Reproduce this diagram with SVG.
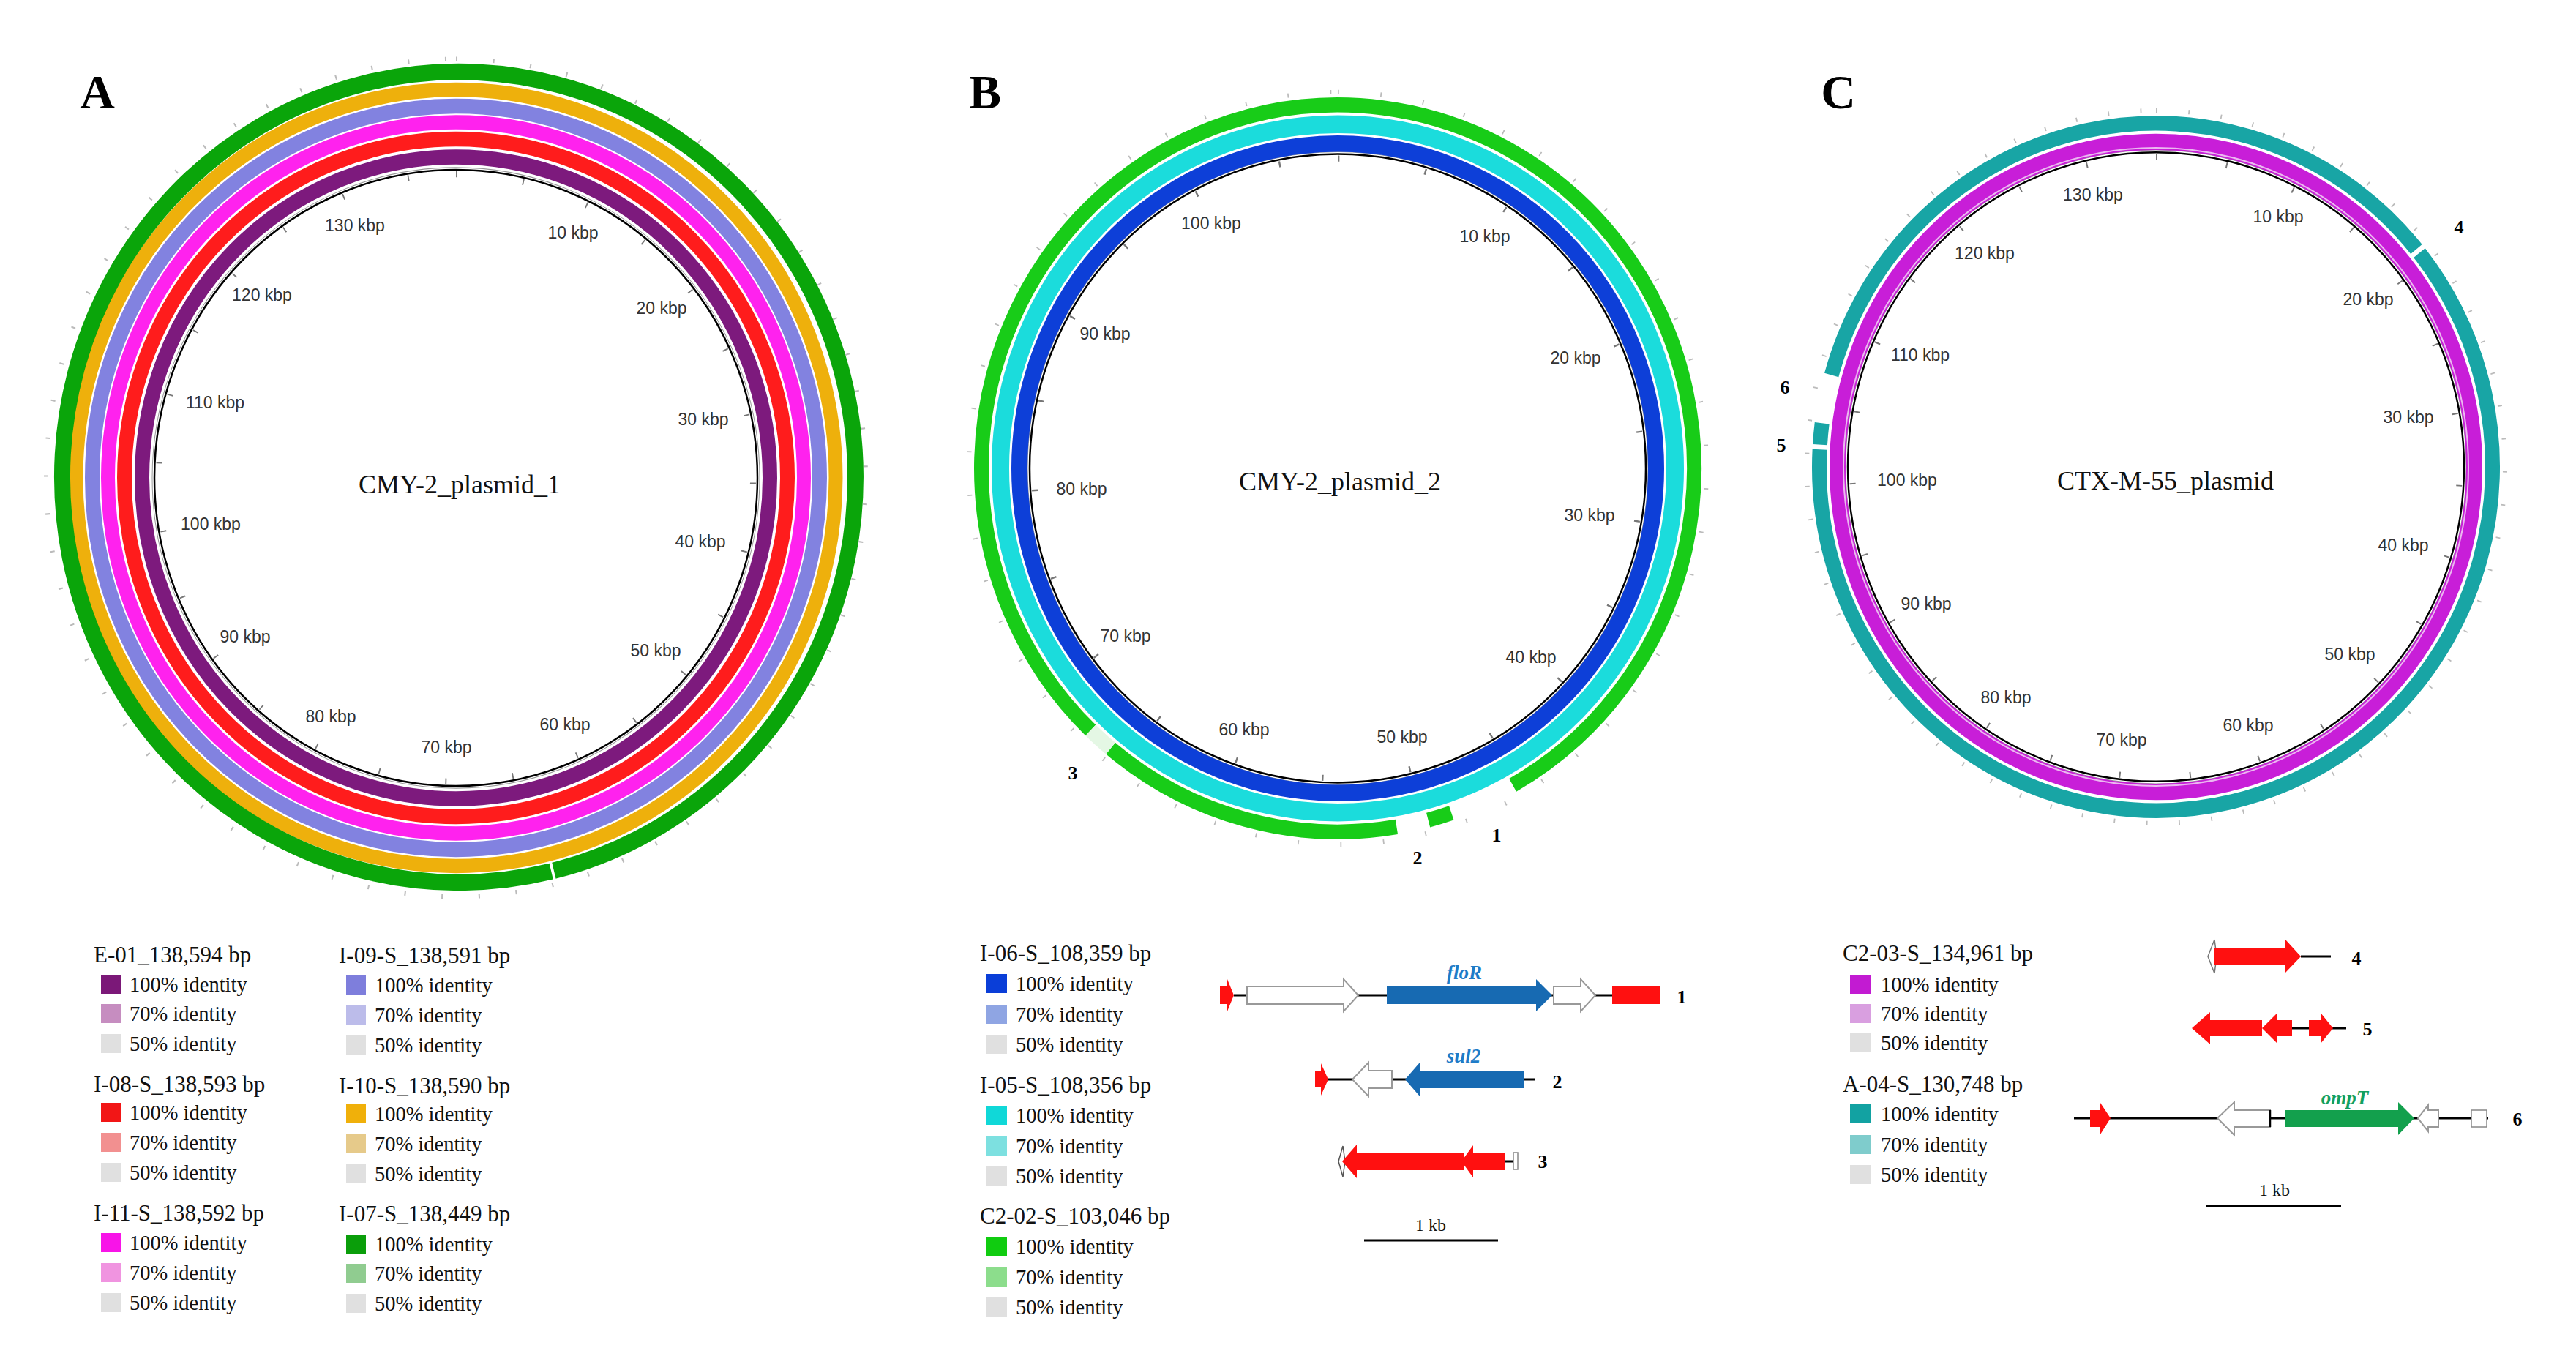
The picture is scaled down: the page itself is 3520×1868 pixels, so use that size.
<svg xmlns="http://www.w3.org/2000/svg" width="3520" height="1868" viewBox="0 0 3520 1868">
<style>
.tk{font-family:"Liberation Sans",Arial,sans-serif;font-size:23px;fill:#333;text-anchor:middle;dominant-baseline:central}
.ttl{font-family:"Liberation Serif","Times New Roman",serif;font-size:36px;fill:#111;text-anchor:middle;dominant-baseline:central}
.pl{font-family:"Liberation Serif","Times New Roman",serif;font-size:66px;font-weight:bold;fill:#000;text-anchor:middle;dominant-baseline:central}
.lh{font-family:"Liberation Serif","Times New Roman",serif;font-size:31px;fill:#111;dominant-baseline:central}
.li{font-family:"Liberation Serif","Times New Roman",serif;font-size:28.5px;fill:#111;dominant-baseline:central}
.num{font-family:"Liberation Serif","Times New Roman",serif;font-size:26px;font-weight:bold;fill:#000;text-anchor:middle;dominant-baseline:central}
.gn{font-family:"Liberation Serif","Times New Roman",serif;font-size:27px;font-weight:bold;font-style:italic;text-anchor:middle;dominant-baseline:central}
.kb{font-family:"Liberation Serif","Times New Roman",serif;font-size:24px;fill:#111;text-anchor:middle;dominant-baseline:central}
.ring{fill:none}
.bl{fill:none;stroke:#000;stroke-width:2.5}
.itk{fill:none;stroke:#777;stroke-width:8}
.otk{fill:none;stroke:#bbb;stroke-width:6}
.wa{fill:#fff;stroke:#999;stroke-width:2}
.bb{stroke:#000;stroke-width:3;fill:none}
</style>

<!-- Panel A -->
<g id="panelA">
  <text class="pl" x="133" y="125">A</text>
  <g id="ringsA" transform="translate(623 653) scale(1 1.022)">
    <circle class="otk" r="560" pathLength="138.594" stroke-dasharray="0.08 1.92" transform="rotate(-90)"/>
    <circle class="itk" r="406" pathLength="138.594" stroke-dasharray="0.1 4.9" transform="rotate(-90)"/>
    <circle r="415" fill="none" stroke="#999" stroke-width="1"/>
    <circle class="bl" r="412"/>
    <circle class="ring" r="429" stroke="#7D1A7D" stroke-width="20"/>
    <circle class="ring" r="453" stroke="#FF1C1C" stroke-width="20"/>
    <circle class="ring" r="475.5" stroke="#FF22EE" stroke-width="19"/>
    <circle class="ring" r="497" stroke="#8282E0" stroke-width="20"/>
    <circle class="ring" r="519" stroke="#EEB00C" stroke-width="19"/>
    <path class="ring" d="M 130.2 526.1 A 542 542 0 1 1 133.9 525.2" stroke="#0AA50A" stroke-width="22"/>
  </g>
  <text class="ttl" x="628" y="662">CMY-2_plasmid_1</text>
  <g id="ticksA">
    <text class="tk" x="485" y="308">130 kbp</text>
    <text class="tk" x="783" y="318">10 kbp</text>
    <text class="tk" x="358" y="403">120 kbp</text>
    <text class="tk" x="904" y="421">20 kbp</text>
    <text class="tk" x="294" y="550">110 kbp</text>
    <text class="tk" x="961" y="573">30 kbp</text>
    <text class="tk" x="288" y="716">100 kbp</text>
    <text class="tk" x="957" y="740">40 kbp</text>
    <text class="tk" x="335" y="870">90 kbp</text>
    <text class="tk" x="896" y="889">50 kbp</text>
    <text class="tk" x="452" y="979">80 kbp</text>
    <text class="tk" x="772" y="990">60 kbp</text>
    <text class="tk" x="610" y="1021">70 kbp</text>
  </g>
</g>

<!-- Panel B -->
<g id="panelB">
  <text class="pl" x="1346" y="125">B</text>
  <g id="ringsB" transform="translate(1828 640) scale(1 1.02)">
    <circle class="otk" r="504" pathLength="108.359" stroke-dasharray="0.06 1.94" transform="rotate(-90)"/>
    <circle class="itk" r="415" pathLength="108.359" stroke-dasharray="0.1 4.9" transform="rotate(-90)"/>
    <circle r="424" fill="none" stroke="#999" stroke-width="1"/>
    <circle class="bl" r="421"/>
    <circle class="ring" r="435" stroke="#0D3FD8" stroke-width="22"/>
    <circle class="ring" r="461" stroke="#1BDCDC" stroke-width="24"/>
    <path class="ring" d="M -337.7 350.9 A 487 487 0 1 1 239.1 424.3" stroke="#18CC18" stroke-width="20"/>
    <path class="ring" d="M 155.3 461.6 A 487 487 0 0 1 123.6 471.1" stroke="#18CC18" stroke-width="20"/>
    <path class="ring" d="M 80.4 480.3 A 487 487 0 0 1 -310.4 375.2" stroke="#18CC18" stroke-width="20"/>
    <path class="ring" d="M -310.4 375.2 A 487 487 0 0 1 -337.7 350.9" stroke="#E4F7E4" stroke-width="20"/>
  </g>
  <text class="ttl" x="1831" y="658">CMY-2_plasmid_2</text>
  <g id="ticksB">
    <text class="tk" x="1655" y="305">100 kbp</text>
    <text class="tk" x="2029" y="323">10 kbp</text>
    <text class="tk" x="1510" y="456">90 kbp</text>
    <text class="tk" x="2153" y="489">20 kbp</text>
    <text class="tk" x="1478" y="668">80 kbp</text>
    <text class="tk" x="2172" y="704">30 kbp</text>
    <text class="tk" x="1538" y="869">70 kbp</text>
    <text class="tk" x="2092" y="898">40 kbp</text>
    <text class="tk" x="1700" y="997">60 kbp</text>
    <text class="tk" x="1916" y="1007">50 kbp</text>
  </g>
  <text class="num" x="2045" y="1141">1</text>
  <text class="num" x="1937" y="1172">2</text>
  <text class="num" x="1466" y="1056">3</text>
</g>

<!-- Panel C -->
<g id="panelC">
  <text class="pl" x="2512" y="125">C</text>
  <g id="ringsC" transform="translate(2946 638) scale(1 1.021)">
    <circle class="otk" r="477" pathLength="134.961" stroke-dasharray="0.08 1.92" transform="rotate(-90)"/>
    <circle class="itk" r="415" pathLength="134.961" stroke-dasharray="0.1 4.9" transform="rotate(-90)"/>
    <circle r="424" fill="none" stroke="#999" stroke-width="1"/>
    <circle class="bl" r="421"/>
    <circle class="ring" r="435" stroke="#C81ED8" stroke-width="22"/>
    <circle class="ring" r="427" stroke="#EBB8F0" stroke-width="2"/>
    <path class="ring" d="M 360.0 -286.4 A 460 460 0 1 1 -459.4 -23.3" stroke="#18A5A5" stroke-width="20"/>
    <path class="ring" d="M -459.0 -29.7 A 460 460 0 0 1 -456.3 -58.5" stroke="#18A5A5" stroke-width="20"/>
    <path class="ring" d="M -443.3 -122.9 A 460 460 0 0 1 355.9 -291.4" stroke="#18A5A5" stroke-width="20"/>
  </g>
  <text class="ttl" x="2959" y="657">CTX-M-55_plasmid</text>
  <g id="ticksC">
    <text class="tk" x="2860" y="266">130 kbp</text>
    <text class="tk" x="3113" y="296">10 kbp</text>
    <text class="tk" x="2712" y="346">120 kbp</text>
    <text class="tk" x="3236" y="409">20 kbp</text>
    <text class="tk" x="2624" y="485">110 kbp</text>
    <text class="tk" x="3291" y="570">30 kbp</text>
    <text class="tk" x="2606" y="656">100 kbp</text>
    <text class="tk" x="3284" y="745">40 kbp</text>
    <text class="tk" x="2632" y="825">90 kbp</text>
    <text class="tk" x="3211" y="894">50 kbp</text>
    <text class="tk" x="2741" y="953">80 kbp</text>
    <text class="tk" x="3072" y="991">60 kbp</text>
    <text class="tk" x="2899" y="1011">70 kbp</text>
  </g>
  <text class="num" x="3360" y="310">4</text>
  <text class="num" x="2434" y="608">5</text>
  <text class="num" x="2439" y="529">6</text>
</g>

<!-- Legend A -->
<g id="legendA">
  <text class="lh" x="128" y="1304">E-01_138,594 bp</text>
  <rect x="138" y="1332" width="27" height="26" fill="#7B1878"/><text class="li" x="177" y="1345">100% identity</text>
  <rect x="138" y="1372" width="27" height="26" fill="#C68DC0"/><text class="li" x="177" y="1385">70% identity</text>
  <rect x="138" y="1413" width="27" height="26" fill="#E0E0E0"/><text class="li" x="177" y="1426">50% identity</text>
  <text class="lh" x="128" y="1481">I-08-S_138,593 bp</text>
  <rect x="138" y="1507" width="27" height="26" fill="#F21616"/><text class="li" x="177" y="1520">100% identity</text>
  <rect x="138" y="1548" width="27" height="26" fill="#F29090"/><text class="li" x="177" y="1561">70% identity</text>
  <rect x="138" y="1589" width="27" height="26" fill="#E0E0E0"/><text class="li" x="177" y="1602">50% identity</text>
  <text class="lh" x="128" y="1657">I-11-S_138,592 bp</text>
  <rect x="138" y="1685" width="27" height="26" fill="#F814E8"/><text class="li" x="177" y="1698">100% identity</text>
  <rect x="138" y="1726" width="27" height="26" fill="#F094E0"/><text class="li" x="177" y="1739">70% identity</text>
  <rect x="138" y="1767" width="27" height="26" fill="#E0E0E0"/><text class="li" x="177" y="1780">50% identity</text>

  <text class="lh" x="463" y="1305">I-09-S_138,591 bp</text>
  <rect x="473" y="1333" width="27" height="26" fill="#7E7EDC"/><text class="li" x="512" y="1346">100% identity</text>
  <rect x="473" y="1374" width="27" height="26" fill="#BCBCEA"/><text class="li" x="512" y="1387">70% identity</text>
  <rect x="473" y="1415" width="27" height="26" fill="#E0E0E0"/><text class="li" x="512" y="1428">50% identity</text>
  <text class="lh" x="463" y="1483">I-10-S_138,590 bp</text>
  <rect x="473" y="1509" width="27" height="26" fill="#F0B00A"/><text class="li" x="512" y="1522">100% identity</text>
  <rect x="473" y="1550" width="27" height="26" fill="#E6CA8A"/><text class="li" x="512" y="1563">70% identity</text>
  <rect x="473" y="1591" width="27" height="26" fill="#E0E0E0"/><text class="li" x="512" y="1604">50% identity</text>
  <text class="lh" x="463" y="1658">I-07-S_138,449 bp</text>
  <rect x="473" y="1687" width="27" height="26" fill="#0A9E0A"/><text class="li" x="512" y="1700">100% identity</text>
  <rect x="473" y="1727" width="27" height="26" fill="#90CC90"/><text class="li" x="512" y="1740">70% identity</text>
  <rect x="473" y="1768" width="27" height="26" fill="#E0E0E0"/><text class="li" x="512" y="1781">50% identity</text>
</g>

<!-- Legend B -->
<g id="legendB">
  <text class="lh" x="1339" y="1302">I-06-S_108,359 bp</text>
  <rect x="1348" y="1331" width="28" height="26" fill="#0A3ED8"/><text class="li" x="1388" y="1344">100% identity</text>
  <rect x="1348" y="1373" width="28" height="26" fill="#8FA5E3"/><text class="li" x="1388" y="1386">70% identity</text>
  <rect x="1348" y="1414" width="28" height="26" fill="#E0E0E0"/><text class="li" x="1388" y="1427">50% identity</text>
  <text class="lh" x="1339" y="1482">I-05-S_108,356 bp</text>
  <rect x="1348" y="1511" width="28" height="26" fill="#10D8D8"/><text class="li" x="1388" y="1524">100% identity</text>
  <rect x="1348" y="1553" width="28" height="26" fill="#7DE0E0"/><text class="li" x="1388" y="1566">70% identity</text>
  <rect x="1348" y="1594" width="28" height="26" fill="#E0E0E0"/><text class="li" x="1388" y="1607">50% identity</text>
  <text class="lh" x="1339" y="1661">C2-02-S_103,046 bp</text>
  <rect x="1348" y="1690" width="28" height="26" fill="#10CC10"/><text class="li" x="1388" y="1703">100% identity</text>
  <rect x="1348" y="1732" width="28" height="26" fill="#8CDD8C"/><text class="li" x="1388" y="1745">70% identity</text>
  <rect x="1348" y="1773" width="28" height="26" fill="#E0E0E0"/><text class="li" x="1388" y="1786">50% identity</text>
</g>

<!-- Legend C -->
<g id="legendC">
  <text class="lh" x="2518" y="1302">C2-03-S_134,961 bp</text>
  <rect x="2528" y="1332" width="28" height="26" fill="#C21BD2"/><text class="li" x="2570" y="1345">100% identity</text>
  <rect x="2528" y="1372" width="28" height="26" fill="#D99FE0"/><text class="li" x="2570" y="1385">70% identity</text>
  <rect x="2528" y="1412" width="28" height="26" fill="#E0E0E0"/><text class="li" x="2570" y="1425">50% identity</text>
  <text class="lh" x="2518" y="1481">A-04-S_130,748 bp</text>
  <rect x="2528" y="1509" width="28" height="26" fill="#12A2A2"/><text class="li" x="2570" y="1522">100% identity</text>
  <rect x="2528" y="1551" width="28" height="26" fill="#7FCCCC"/><text class="li" x="2570" y="1564">70% identity</text>
  <rect x="2528" y="1592" width="28" height="26" fill="#E0E0E0"/><text class="li" x="2570" y="1605">50% identity</text>
</g>

<!-- Gene backbones -->
<g id="connectors">
  <line class="bb" x1="1686" y1="1360" x2="2203" y2="1360"/>
  <line class="bb" x1="1815" y1="1475" x2="2097" y2="1475"/>
  <line class="bb" x1="2057" y1="1587" x2="2068" y2="1587" stroke-width="4"/>
  <line class="bb" x1="3144" y1="1307" x2="3185" y2="1307"/>
  <line class="bb" x1="3132" y1="1405" x2="3206" y2="1405"/>
  <line class="bb" x1="2834" y1="1528" x2="3400" y2="1528"/>
  <line class="bb" x1="1864" y1="1695" x2="2047" y2="1695"/>
  <line class="bb" x1="3014" y1="1648" x2="3199" y2="1648"/>
</g>

<!-- Gene maps B -->
<g id="genes1">
  <polygon points="1667,1348 1677,1348 1677,1338 1686,1360 1677,1382 1677,1372 1667,1372" fill="#FF1010"/>
  <polygon class="wa" points="1704,1348 1836,1348 1836,1338 1856,1360 1836,1382 1836,1372 1704,1372"/>
  <polygon points="1895,1348 2099,1348 2099,1338 2121,1360 2099,1382 2099,1372 1895,1372" fill="#176AB2"/>
  <polygon class="wa" points="2123,1348 2160,1348 2160,1338 2180,1360 2160,1382 2160,1372 2123,1372"/>
  <rect x="2203" y="1348" width="65" height="24" fill="#FF1010"/>
  <text class="gn" x="2001" y="1329" fill="#1E7CC8">floR</text>
  <text class="num" x="2298" y="1362">1</text>
</g>
<g id="genes2">
  <polygon points="1797,1464 1805,1464 1805,1453 1815,1475 1805,1497 1805,1486 1797,1486" fill="#FF1010"/>
  <polygon class="wa" points="1848,1475 1870,1452 1870,1463 1902,1463 1902,1487 1870,1487 1870,1498"/>
  <polygon points="1920,1475 1940,1452 1940,1463 2083,1463 2083,1487 1940,1487 1940,1498" fill="#176AB2"/>
  <text class="gn" x="2000" y="1443" fill="#1E7CC8">sul2</text>
  <text class="num" x="2128" y="1478">2</text>
</g>
<g id="genes3">
  <polygon points="1835,1566 1829,1587 1835,1608 1838,1587" fill="#fff" stroke="#555" stroke-width="1.5"/>
  <polygon points="1834,1587 1854,1564 1854,1575 2000,1575 2000,1599 1854,1599 1854,1610" fill="#FF1010"/>
  <polygon points="1997,1587 2013,1565 2013,1575 2057,1575 2057,1599 2013,1599 2013,1609" fill="#FF1010"/>
  <rect x="2068" y="1575" width="6" height="23" fill="#fff" stroke="#888" stroke-width="1.5"/>
  <text class="num" x="2108" y="1587">3</text>
</g>
<text class="kb" x="1955" y="1674">1 kb</text>

<!-- Gene maps C -->
<g id="genes4">
  <polygon points="3026,1284 3017,1307 3026,1330 3029,1307" fill="#fff" stroke="#777" stroke-width="1.5"/>
  <polygon points="3026,1295 3123,1295 3123,1284 3144,1307 3123,1329 3123,1319 3026,1319" fill="#FF1010"/>
  <text class="num" x="3220" y="1309">4</text>
</g>
<g id="genes5">
  <polygon points="2995,1405 3020,1383 3020,1394 3091,1394 3091,1416 3020,1416 3020,1427" fill="#FF1010"/>
  <polygon points="3091,1405 3112,1384 3112,1394 3132,1394 3132,1416 3112,1416 3112,1426" fill="#FF1010"/>
  <polygon points="3155,1394 3171,1394 3171,1384 3188,1405 3171,1426 3171,1416 3155,1416" fill="#FF1010"/>
  <text class="num" x="3235" y="1406">5</text>
</g>
<g id="genes6">
  <polygon points="2856,1517 2870,1517 2870,1507 2884,1528 2870,1550 2870,1540 2856,1540" fill="#FF1010"/>
  <polygon class="wa" points="3030,1528 3053,1506 3053,1517 3102,1517 3102,1540 3053,1540 3053,1551"/>
  <line x1="3102" y1="1517" x2="3102" y2="1540" stroke="#000" stroke-width="2.5"/>
  <polygon points="3122,1517 3277,1517 3277,1506 3299,1528 3277,1551 3277,1540 3122,1540" fill="#13A04D"/>
  <polygon class="wa" points="3304,1528 3318,1510 3318,1517 3332,1517 3332,1540 3318,1540 3318,1546"/>
  <rect x="3377" y="1517" width="21" height="23" fill="#fff" stroke="#888" stroke-width="1.5"/>
  <text class="gn" x="3204" y="1500" fill="#12A060">ompT</text>
  <text class="num" x="3440" y="1529">6</text>
</g>
<text class="kb" x="3108" y="1626">1 kb</text>
</svg>
